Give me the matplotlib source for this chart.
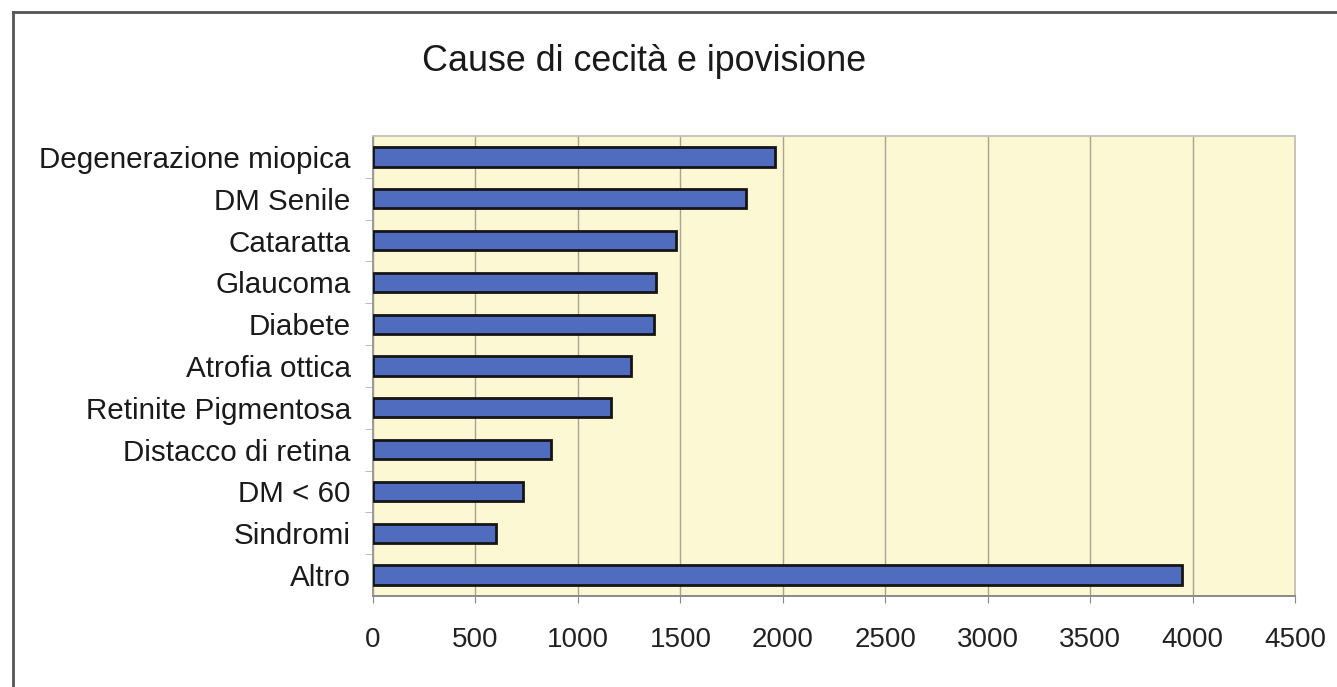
import matplotlib.pyplot as plt
from matplotlib.lines import Line2D
from matplotlib.ticker import FixedLocator

plt.rcParams['font.family'] = ['Liberation Sans', 'DejaVu Sans']

# cause, dall'alto verso il basso
cause = ['Degenerazione miopica', 'DM Senile', 'Cataratta', 'Glaucoma',
         'Diabete', 'Atrofia ottica', 'Retinite Pigmentosa',
         'Distacco di retina', 'DM < 60', 'Sindromi', 'Altro']
casi = [1960, 1820, 1480, 1380, 1370, 1260, 1160, 870, 730, 600, 3950]
x_ticks = [0, 500, 1000, 1500, 2000, 2500, 3000, 3500, 4000, 4500]

fig = plt.figure(figsize=(13.37, 6.87), dpi=100)
ax = fig.add_axes([0.279, 0.1325, 0.6897, 0.6695])
ax.set_facecolor('#fbf8d3')

pos = list(range(len(cause)))
ax.barh(pos, casi, height=0.46, color='#4f6cbf', edgecolor='#151515',
        linewidth=2.0, zorder=3)

ax.set_xlim(0, 4500)
ax.set_ylim(len(cause) - 0.5, -0.5)
ax.set_xticks(x_ticks)
ax.set_xticklabels([str(v) for v in x_ticks], fontsize=20, color='#222222')
ax.set_yticks(pos)
ax.set_yticklabels(cause, fontsize=21.3, color='#1a1a1a')
ax.tick_params(axis='y', length=0, pad=16)
ax.tick_params(axis='x', length=5, color='#8a8a8a', pad=17)

# tacche tra le categorie sull'asse verticale
ax.yaxis.set_minor_locator(FixedLocator([p + 0.5 for p in pos[:-1]]))
ax.tick_params(axis='y', which='minor', length=6, color='#b0b0b0')

ax.grid(axis='x', color='#aaa392', linewidth=1.0, zorder=1)
for side, col in [('left', '#9a9a9a'), ('bottom', '#8a8a8a'),
                  ('top', '#c8c4b8'), ('right', '#c8c4b8')]:
    ax.spines[side].set_color(col)
    ax.spines[side].set_linewidth(1.4)

fig.text(0.482, 0.91, 'Cause di cecità e ipovisione', ha='center',
         va='center', fontsize=25.8, color='#1a1a1a')

# cornice esterna
fig.add_artist(Line2D([13 / 1337, 1], [1 - 12 / 687, 1 - 12 / 687],
                      color='#555555', linewidth=2))
fig.add_artist(Line2D([13 / 1337, 13 / 1337], [0, 1 - 12 / 687],
                      color='#555555', linewidth=2))

fig.savefig('out.png', dpi=100, facecolor='white')
